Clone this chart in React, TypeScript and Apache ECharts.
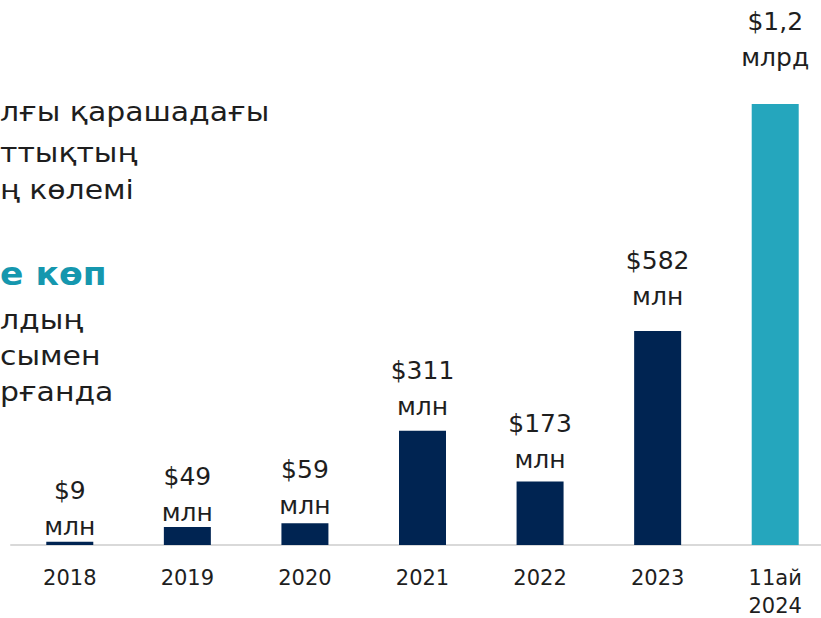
import React, { useEffect, useRef } from "react";
import * as echarts from "echarts";

const categories = ["2018", "2019", "2020", "2021", "2022", "2023", "11ай\n2024"];
const values = [9, 49, 59, 311, 173, 582, 1200];
const valueLabels = ["$9\nмлн", "$49\nмлн", "$59\nмлн", "$311\nмлн", "$173\nмлн", "$582\nмлн", "$1,2\nмлрд"];
const leftLines = ["лғы қарашадағы", "ттықтың", "ң көлемі"];
const highlight = "е көп";
const leftLines2 = ["лдың", "сымен", "рғанда"];

const NAVY = "#002452";
const TEAL = "#25a6bd";
const FONT = "DejaVu Sans";
// label distances above bars (style only)
const labelDist = [-3, -4, 0, 6, 4, 17, 29];

export default function App() {
  const ref = useRef<HTMLDivElement>(null);
  useEffect(() => {
    const chart = echarts.init(ref.current!, null, { renderer: "svg" });
    const graphics: any[] = [];
    const ys1 = [112, 153, 190];
    leftLines.forEach((t, i) =>
      graphics.push({
        type: "text",
        x: 0,
        y: ys1[i],
        scaleX: 1.15,
        style: { text: t, fill: "#1e1e1e", font: `26px '${FONT}'`, textAlign: "left", textVerticalAlign: "middle" },
      })
    );
    graphics.push({
      type: "text",
      x: 0,
      y: 274,
      scaleX: 1.08,
      style: { text: highlight, fill: "#1597ae", font: `bold 32px '${FONT}'`, textAlign: "left", textVerticalAlign: "middle" },
    });
    const ys2 = [320, 356, 392];
    leftLines2.forEach((t, i) =>
      graphics.push({
        type: "text",
        x: 0,
        y: ys2[i],
        scaleX: 1.15,
        style: { text: t, fill: "#1e1e1e", font: `26px '${FONT}'`, textAlign: "left", textVerticalAlign: "middle" },
      })
    );

    chart.setOption({
      animation: false,
      grid: { left: 11, width: 823, top: 104, height: 441, outerBoundsMode: "none", containLabel: false },
      graphic: graphics,
      xAxis: {
        type: "category",
        data: categories,
        axisLine: { show: true, lineStyle: { color: "#d9d9d9", width: 2 } },
        axisTick: { show: false },
        axisLabel: {
          color: "#1e1e1e",
          fontFamily: FONT,
          fontSize: 21,
          lineHeight: 28,
          margin: 19,
          interval: 0,
        },
      },
      yAxis: {
        type: "value",
        min: 0,
        max: 1200,
        show: false,
        splitLine: { show: false },
      },
      series: [
        {
          type: "bar",
          barWidth: 47,
          data: values.map((v, i) => ({
            value: v,
            itemStyle: { color: i === values.length - 1 ? TEAL : NAVY },
            label: {
              show: true,
              position: "top",
              distance: labelDist[i],
              formatter: valueLabels[i],
              color: "#1e1e1e",
              fontFamily: FONT,
              fontSize: 25,
              lineHeight: 36,
            },
          })),
        },
      ],
    });
    return () => chart.dispose();
  }, []);
  return <div ref={ref} style={{ width: 821, height: 618, position: "absolute", left: 0, top: 0 }} />;
}
